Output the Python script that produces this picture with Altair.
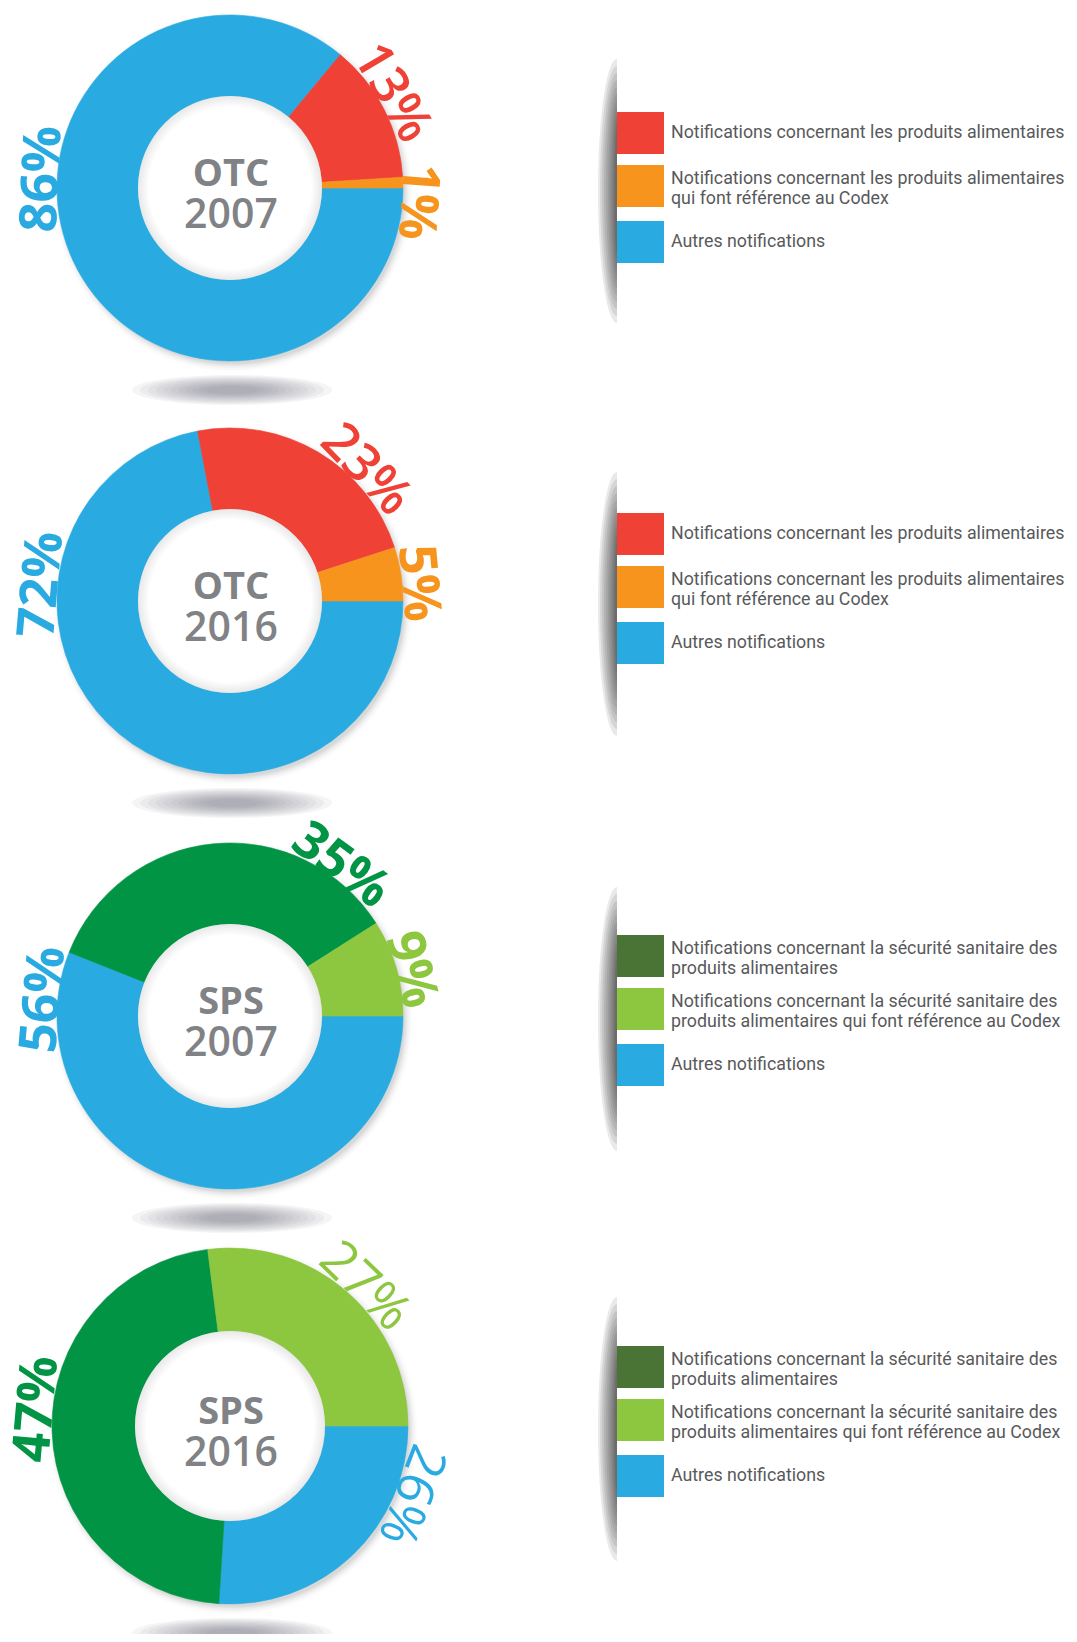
import math
import altair as alt
import pandas as pd

# ---------------- data ----------------
charts = ["OTC 2007", "OTC 2016", "SPS 2007", "SPS 2016"]
chart_kind = ["OTC", "OTC", "SPS", "SPS"]
chart_year = ["2007", "2016", "2007", "2016"]

# slices, clockwise from 3 o'clock: other notifications, main category, Codex category
slice_keys = ["autres", "principal", "codex"]
otc_2007 = [86, 13, 1]
otc_2016 = [72, 23, 5]
sps_2007 = [56, 35, 9]
sps_2016 = [26, 47, 27]
chart_values = [otc_2007, otc_2016, sps_2007, sps_2016]

otc_legend = [
    "Notifications concernant les produits alimentaires",
    "Notifications concernant les produits alimentaires\nqui font référence au Codex",
    "Autres notifications",
]
sps_legend = [
    "Notifications concernant la sécurité sanitaire des\nproduits alimentaires",
    "Notifications concernant la sécurité sanitaire des\nproduits alimentaires qui font référence au Codex",
    "Autres notifications",
]

# ---------------- style / layout ----------------
BLUE, RED, ORANGE = "#29ABE2", "#EF4136", "#F7941D"
DGREEN, LGREEN, LEG_DGREEN = "#009444", "#8DC63F", "#4A7436"
SLICE_COLORS = {
    "OTC": {"autres": BLUE, "principal": RED, "codex": ORANGE},
    "SPS": {"autres": BLUE, "principal": DGREEN, "codex": LGREEN},
}
LEGEND_COLORS = {"OTC": [RED, ORANGE, BLUE], "SPS": [LEG_DGREEN, LGREEN, BLUE]}
GRAY_TITLE = "#808285"
GRAY_TEXT = "#58595B"

# label placement around the ring (compass degrees, clockwise from 12 o'clock)
LABEL_DEG = [[272.7, 59.6, 94.2], [275, 46, 84.6], [275, 36.4, 75.6], [110.8, 275, 44]]
LABEL_WT = [["b", "s", "b"], ["b", "s", "b"], ["b", "b", "b"], ["m", "b", "m"]]
WEIGHTS = {"b": "bold", "s": 600, "m": 500}

W, H = 1061, 1626
CX = 222
CY = [180, 593, 1008, 1418]
R_OUT = [173, 173, 173, 178]
R_IN = [92, 92, 92, 95]
LABEL_R = [188, 189, 187, 194]
LEGEND_TOP = [104, 505, 927, 1338]
LEG_STEP = [0, 53, 109]
LEG_H = 42
LEG_LINE_H = 20

LABEL_FONT = "Open Sans"
LEG_FONT = "Roboto"

# soft shadows drawn as stacks of translucent shapes
ELLIPSE = "M -1 0 A 1 0.15 0 1 0 1 0 A 1 0.15 0 1 0 -1 0 Z"
ground_w = [200, 184, 168, 152, 137, 122, 108, 94, 80, 66, 52]
ground_df = pd.DataFrame({"size": [w * w for w in ground_w], "path": [ELLIPSE] * len(ground_w)})
bar_steps = [(264, 19), (250, 17), (236, 15), (222, 13), (208, 11), (194, 9),
             (180, 7.2), (166, 5.6), (152, 4.2), (138, 3), (124, 2)]
bar_df = pd.DataFrame({
    "size": [h * h for h, _ in bar_steps],
    "path": [f"M 0 -1 A {rx / (h / 2):.4f} 1 0 0 0 0 1 Z" for h, rx in bar_steps],
})

# ---------------- tables ----------------
rows = []
for ci, name in enumerate(charts):
    kind = chart_kind[ci]
    for si, key in enumerate(slice_keys):
        v = chart_values[ci][si]
        rows.append({
            "chart": name, "order": si, "value": v, "label": f"{v}%",
            "color": SLICE_COLORS[kind][key], "deg": LABEL_DEG[ci][si],
            "wt": LABEL_WT[ci][si],
        })
slices_df = pd.DataFrame(rows)

leg_rows = []
for ci, name in enumerate(charts):
    kind = chart_kind[ci]
    texts = otc_legend if kind == "OTC" else sps_legend
    for li, t in enumerate(texts):
        leg_rows.append({"chart": name, "order": li, "text": t,
                         "nlines": t.count("\n") + 1,
                         "color": LEGEND_COLORS[kind][li]})
legend_df = pd.DataFrame(leg_rows)

titles_df = pd.DataFrame({"chart": charts, "kind": chart_kind, "year": chart_year})

THETA = alt.Scale(domain=[0, 100], range=[math.pi / 2, math.pi / 2 + 2 * math.pi])


def radial(stops):
    return alt.RadialGradient(
        gradient="radial",
        stops=[alt.GradientStop(offset=o, color=c) for o, c in stops],
        x1=0.5, y1=0.5, r1=0, x2=0.5, y2=0.5, r2=0.5,
    )


layers = []
for ci, name in enumerate(charts):
    cx, cy = CX, CY[ci]
    R, r = R_OUT[ci], R_IN[ci]
    flt = alt.datum.chart == name
    tbase = alt.Chart(titles_df).transform_filter(flt)

    # ground shadow below the ring
    layers.append(
        alt.Chart(ground_df).mark_point(filled=True, color="#7d7f82", opacity=0.075, strokeWidth=0)
        .encode(x=alt.value(cx + 2), y=alt.value(cy + R + 29),
                size=alt.Size("size:Q", scale=None),
                shape=alt.Shape("path:N", scale=None))
    )
    # soft halo of the ring
    halo_r = R + 8
    layers.append(
        tbase.mark_arc(radius=halo_r, theta=0, theta2=2 * math.pi,
                       fill=radial([(0, "#d8d8d8"), (R / halo_r - 0.01, "#d8d8d8"),
                                    (1, "rgba(255,255,255,0)")]))
        .encode(x=alt.value(cx + 3), y=alt.value(cy + 4))
    )
    # slices
    sbase = (
        alt.Chart(slices_df).transform_filter(flt)
        .transform_window(cum="sum(value)", sort=[alt.SortField("order", order="ascending")])
        .transform_calculate(start="datum.cum - datum.value",
                             lpos="((datum.deg - 90 + 360) % 360) / 3.6")
    )
    layers.append(
        sbase.mark_arc(radius=R, radius2=r, strokeWidth=0.6)
        .encode(x=alt.value(cx), y=alt.value(cy),
                theta=alt.Theta("start:Q", scale=THETA, stack=None),
                theta2=alt.Theta2("cum:Q"),
                fill=alt.Fill("color:N", scale=None),
                stroke=alt.Stroke("color:N", scale=None))
    )
    # inner hole with slight inner shadow
    layers.append(
        tbase.mark_arc(radius=r, theta=0, theta2=2 * math.pi,
                       fill=radial([(0, "#ffffff"), (0.88, "#ffffff"), (1, "#e8e8e8")]))
        .encode(x=alt.value(cx), y=alt.value(cy))
    )
    # centre titles
    layers.append(
        tbase.mark_text(font=LABEL_FONT, fontSize=38, fontWeight="bold", color=GRAY_TITLE,
                        align="center", baseline="middle")
        .encode(x=alt.value(cx + 1), y=alt.value(cy - 13), text="kind:N")
    )
    layers.append(
        tbase.mark_text(font=LABEL_FONT, fontSize=41, fontWeight=600, color=GRAY_TITLE,
                        align="center", baseline="middle")
        .encode(x=alt.value(cx + 1), y=alt.value(cy + 28), text="year:N")
    )
    # percentage labels
    for wk, wv in WEIGHTS.items():
        layers.append(
            sbase.transform_filter(alt.datum.wt == wk)
            .mark_text(font=LABEL_FONT, fontSize=52, fontWeight=wv, radius=LABEL_R[ci],
                       align="center", baseline="middle")
            .encode(x=alt.value(cx), y=alt.value(cy),
                    theta=alt.Theta("lpos:Q", scale=THETA, stack=None),
                    text="label:N",
                    fill=alt.Fill("color:N", scale=None),
                    angle=alt.Angle("deg:Q", scale=None))
        )
    # legend shadow bar (left half-ellipse, sharp right edge)
    layers.append(
        alt.Chart(bar_df).mark_point(filled=True, color="#3a3a3a", opacity=0.11, strokeWidth=0)
        .encode(x=alt.value(609), y=alt.value(cy + 3),
                size=alt.Size("size:Q", scale=None),
                shape=alt.Shape("path:N", scale=None))
    )
    # legend entries
    top = LEGEND_TOP[ci]
    lbase = (
        alt.Chart(legend_df).transform_filter(flt)
        .transform_calculate(
            ytop=f"{top} + {LEG_STEP}[datum.order]",
            ybot=f"{top} + {LEG_STEP}[datum.order] + {LEG_H}",
            ymid=f"{top} + {LEG_STEP}[datum.order] + {LEG_H / 2} - (datum.nlines - 1) * 7",
        )
    )
    layers.append(
        lbase.mark_rect()
        .encode(x=alt.value(609), x2=alt.value(656),
                y=alt.Y("ytop:Q", scale=None, axis=None),
                y2=alt.Y2("ybot:Q"),
                fill=alt.Fill("color:N", scale=None))
    )
    layers.append(
        lbase.mark_text(font=LEG_FONT, fontSize=17.8, color=GRAY_TEXT, align="left",
                        baseline="middle", lineBreak="\n", lineHeight=LEG_LINE_H)
        .encode(x=alt.value(663), y=alt.Y("ymid:Q", scale=None, axis=None), text="text:N")
    )

chart = (
    alt.layer(*layers)
    .properties(width=W, height=H, padding=0, autosize=alt.AutoSizeParams(type="none"))
    .configure_view(strokeWidth=0)
)

chart.save("out.html", embed_options={"renderer": "svg", "actions": False})
